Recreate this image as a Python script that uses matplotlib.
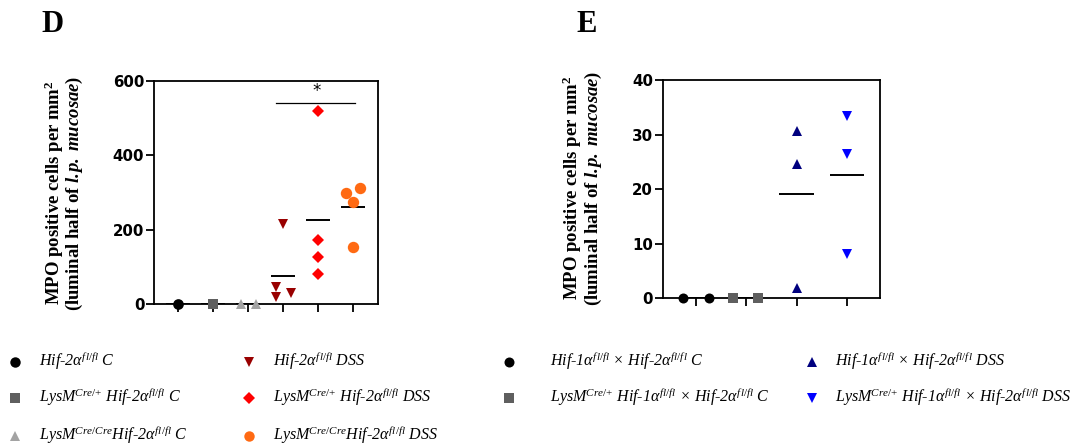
import numpy as np
import matplotlib.pyplot as plt

plt.rcParams['font.family'] = ['Liberation Serif', 'DejaVu Sans']
plt.rcParams['mathtext.fontset'] = 'custom'
plt.rcParams['mathtext.rm'] = 'Liberation Serif'
plt.rcParams['mathtext.it'] = 'Liberation Serif:italic'
plt.rcParams['mathtext.bf'] = 'Liberation Serif:bold'
plt.rcParams['mathtext.bfit'] = 'Liberation Serif:italic:bold'

# ---- panel D data ----
d_labels = [r"Hif-2$\alpha^{fl/fl}$ C",
            r"LysM$^{Cre/{+}}$ Hif-2$\alpha^{fl/fl}$ C",
            r"LysM$^{Cre/Cre}$Hif-2$\alpha^{fl/fl}$ C",
            r"Hif-2$\alpha^{fl/fl}$ DSS",
            r"LysM$^{Cre/{+}}$ Hif-2$\alpha^{fl/fl}$ DSS",
            r"LysM$^{Cre/Cre}$Hif-2$\alpha^{fl/fl}$ DSS"]
d_values = [[0], [0], [0, 0], [214, 45, 18, 29], [518, 172, 127, 81], [299, 312, 274, 154]]
d_yticks = [0, 200, 400, 600]
d_sig = (4, 6, 541, "*")

# ---- panel E data ----
e_labels = [r"Hif-1$\alpha^{fl/fl}$ × Hif-2$\alpha^{fl/fl}$ C",
            r"LysM$^{Cre/{+}}$ Hif-1$\alpha^{fl/fl}$ × Hif-2$\alpha^{fl/fl}$ C",
            r"Hif-1$\alpha^{fl/fl}$ × Hif-2$\alpha^{fl/fl}$ DSS",
            r"LysM$^{Cre/{+}}$ Hif-1$\alpha^{fl/fl}$ × Hif-2$\alpha^{fl/fl}$ DSS"]
e_values = [[0, 0], [0, 0], [30.7, 24.6, 1.9], [33.4, 26.4, 8.0]]
e_yticks = [0, 10, 20, 30, 40]

# styles / jitter
d_style = [('o', '#000000', 7.7), ('s', '#5f5f5f', 7.2), ('^', '#a3a3a3', 7.2),
           ('v', '#990000', 6.8), ('D', '#ff0000', 6.6), ('o', '#ff6a13', 8.2)]
d_jit = [[0], [0], [-0.21, 0.21], [0, -0.2, -0.2, 0.22], [0, 0, 0, 0], [-0.2, 0.2, 0, 0]]
e_style = [('o', '#000000', 7.2), ('s', '#5f5f5f', 6.8), ('^', '#00007f', 6.8), ('v', '#0000ff', 6.8)]
e_jit = [[-0.26, 0.26], [-0.26, 0.24], [0, 0, 0], [0, 0, 0]]

W, H = 1085, 446
fig = plt.figure(figsize=(W / 100, H / 100), dpi=100)


def px_axes(l, t, r, b):
    return fig.add_axes([l / W, 1 - b / H, (r - l) / W, (b - t) / H])


def draw_panel(ax, values, style, jit, yticks, xlim):
    for i, (vals, (m, c, s), jj) in enumerate(zip(values, style, jit)):
        x = i + 1 + np.array(jj)
        ax.plot(x, vals, linestyle='none', marker=m, color=c, markersize=s,
                markeredgewidth=0, clip_on=False, zorder=3)
        ax.hlines(np.mean(vals), i + 1 - 0.34, i + 1 + 0.34, color='black', lw=1.4, zorder=2)
    ax.set_xlim(*xlim)
    ax.set_ylim(yticks[0], yticks[-1])
    ax.set_yticks(yticks)
    ax.set_xticks(np.arange(1, len(values) + 1))
    ax.set_xticklabels([])
    for sp in ax.spines.values():
        sp.set_linewidth(1.3)
    ax.tick_params(direction='out', length=5.5, width=1.3, pad=1.5)
    for lab in ax.get_yticklabels():
        lab.set_family('DejaVu Sans')
        lab.set_weight('bold')
        lab.set_fontsize(10.8)


axD = px_axes(154, 80.7, 378, 304)
draw_panel(axD, d_values, d_style, d_jit, d_yticks, (0.31, 6.71))
a, b, ysig, star = d_sig
axD.plot([a - 0.2, b + 0.05], [ysig, ysig], color='black', lw=0.9)
axD.text((a + b) / 2 - 0.05, ysig + 8, star, ha='center', va='bottom',
         family='DejaVu Sans', fontsize=12)

axE = px_axes(662.7, 80, 880, 298)
draw_panel(axE, e_values, e_style, e_jit, e_yticks, (0.34, 4.66))

# overlay in pixel coordinates for labels and legends
ov = fig.add_axes([0, 0, 1, 1], zorder=-1)
ov.set_xlim(0, W)
ov.set_ylim(H, 0)
ov.axis('off')

ov.text(52, 24, "D", ha='center', va='center', fontsize=22, weight='bold')
ov.text(587, 24, "E", ha='center', va='center', fontsize=22, weight='bold')

line1 = r"MPO positive cells per mm$^{\mathbf{2}}$"
line2 = r"(luminal half of $\mathbfit{l.\!p.\ mucosae}$)"
for (x1, x2, yc) in [(60, 79, 193), (578, 598, 188)]:
    ov.text(x1, yc, line1, rotation=90, rotation_mode='anchor', ha='center', va='baseline',
            fontsize=13.5, weight='bold')
    ov.text(x2, yc, line2, rotation=90, rotation_mode='anchor', ha='center', va='baseline',
            fontsize=13.5, weight='bold')

# legends
rows = [362, 398, 436]
d_cols = [(15, 39), (249, 273)]
e_cols = [(509, 550), (812, 835)]


def draw_legend(labels, style, cols, nrow):
    for k, (lab, (m, c, s)) in enumerate(zip(labels, style)):
        mx, tx = cols[k // nrow]
        y = rows[k % nrow]
        ov.plot([mx], [y], linestyle='none', marker=m, color=c,
                markersize=min(s, 7.5), markeredgewidth=0)
        ov.text(tx, y + 4.5, lab, ha='left', va='baseline', fontsize=11.5, style='italic')


draw_legend(d_labels, d_style, d_cols, 3)
draw_legend(e_labels, e_style, e_cols, 2)

fig.savefig('out.png', dpi=100)
